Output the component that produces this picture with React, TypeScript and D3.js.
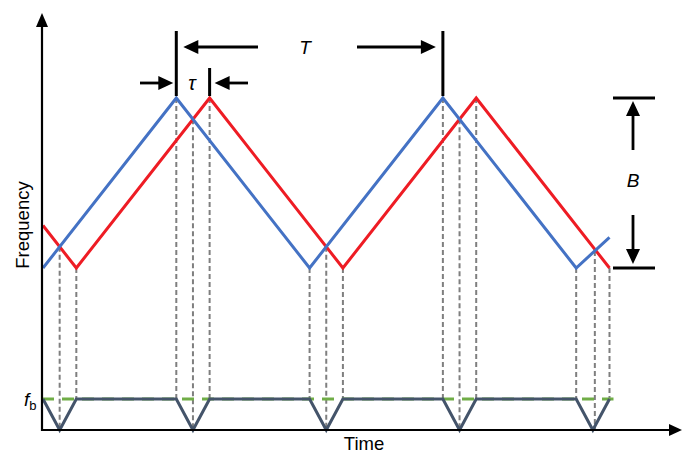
import React from "react";
import * as d3 from "d3";

// Transmitted (blue) and received (red) chirp frequencies: time in half-periods, frequency as fraction of B
const blueT = [0, 1, 2, 3, 4, 4.25];
const blueF = [0, 1, 0, 1, 0, 0.18];
const redT = [0, 0.25, 1.25, 2.25, 3.25, 4.25];
const redF = [0.25, 0, 1, 0, 1, 0];
// Beat frequency (fraction of fb)
const beatT = [0, 0.125, 0.25, 1, 1.125, 1.25, 2, 2.125, 2.25, 3, 3.125, 3.25, 4, 4.125, 4.25];
const beatV = [1, 0, 1, 1, 0, 1, 1, 0, 1, 1, 0, 1, 1, 0, 1];
// Dashed guides: time, top frequency, bottom beat value
const guideT = [0.125, 0.25, 1, 1.125, 1.25, 2, 2.125, 2.25, 3, 3.125, 3.25, 4, 4.14, 4.25];
const guideF = [0.125, 0, 1, 0.875, 1, 0, 0.125, 0, 1, 0.875, 1, 0, 0.1, 0];
const guideB = [0, 1, 1, 0, 1, 1, 0, 1, 1, 0, 1, 1, 0, 1];

const labels = { x: "Time", y: "Frequency", T: "T", tau: "τ", B: "B", fb: "f", fbSub: "b" };

const BLUE = "#4472c4";
const RED = "#ee1c24";
const BEAT = "#44546a";
const GREEN = "#70ad47";
const FONT = "'Liberation Sans', Arial, sans-serif";

function Arrow({ x1, y1, x2, y2, head = 15, half = 7, w = 2.8 }: any) {
  const dx = x2 - x1, dy = y2 - y1;
  const len = Math.hypot(dx, dy);
  const ux = dx / len, uy = dy / len;
  const bx = x2 - ux * head, by = y2 - uy * head;
  const px = -uy, py = ux;
  const pts = [
    [x2, y2],
    [bx + px * half, by + py * half],
    [bx - px * half, by - py * half],
  ];
  return (
    <g>
      <line x1={x1} y1={y1} x2={bx + ux * 1} y2={by + uy * 1} stroke="#000" strokeWidth={w} />
      <polygon points={pts.map((p) => p.join(",")).join(" ")} fill="#000" />
    </g>
  );
}

export default function App() {
  const x = d3.scaleLinear().domain([0, 4.25]).range([43, 609.5]);
  const y = d3.scaleLinear().domain([0, 1]).range([268, 98]);
  const yb = d3.scaleLinear().domain([0, 1]).range([430, 399]);

  const line = d3.line<[number, number]>().x((d) => x(d[0])).y((d) => y(d[1]));
  const beatLine = d3.line<[number, number]>().x((d) => x(d[0])).y((d) => yb(d[1]));

  const blue = blueT.map((t, i) => [t, blueF[i]] as [number, number]);
  const red = redT.map((t, i) => [t, redF[i]] as [number, number]);
  const beat = beatT.map((t, i) => [t, beatV[i]] as [number, number]);

  const axX = 42, axY = 430;

  return (
    <svg width={682} height={454} style={{ position: "absolute", left: 0, top: 0, background: "#fff" }}>
      {/* dashed guides */}
      {guideT.map((t, i) => (
        <line key={i} x1={x(t)} x2={x(t)} y1={y(guideF[i])} y2={yb(guideB[i])}
          stroke="#7f7f7f" strokeWidth={2} strokeDasharray="5,3" />
      ))}
      {/* green fb dashed */}
      <line x1={axX} x2={x(4.25) + 4} y1={yb(1)} y2={yb(1)} stroke={GREEN} strokeWidth={3} strokeDasharray="12,8" />
      {/* beat */}
      <path d={beatLine(beat) || ""} fill="none" stroke={BEAT} strokeWidth={3} strokeLinejoin="miter" />
      {/* chirps */}
      <path d={line(red) || ""} fill="none" stroke={RED} strokeWidth={3} />
      <path d={line(blue) || ""} fill="none" stroke={BLUE} strokeWidth={3} />

      {/* axes */}
      <line x1={axX} y1={axY + 1} x2={axX} y2={24} stroke="#000" strokeWidth={2.2} />
      <polygon points={`${axX},13 ${axX - 6},27 ${axX + 6},27`} fill="#000" />
      <line x1={axX - 1} y1={axY} x2={671} y2={axY} stroke="#000" strokeWidth={2.2} />
      <polygon points={`682,${axY} 669,${axY - 6} 669,${axY + 6}`} fill="#000" />

      {/* T annotation */}
      <line x1={x(1)} x2={x(1)} y1={31} y2={96} stroke="#000" strokeWidth={3} />
      <line x1={x(3)} x2={x(3)} y1={31} y2={96} stroke="#000" strokeWidth={3} />
      <Arrow x1={258} y1={47} x2={x(1) + 7} y2={47} />
      <Arrow x1={357} y1={47} x2={x(3) - 7} y2={47} />
      <text x={305} y={47} dominantBaseline="central" textAnchor="middle" fontStyle="italic" fontSize={19} fontFamily={FONT}>{labels.T}</text>

      {/* tau annotation */}
      <line x1={x(1.25)} x2={x(1.25)} y1={68} y2={96} stroke="#000" strokeWidth={3} />
      <Arrow x1={140} y1={83} x2={x(1) - 3} y2={83} />
      <Arrow x1={248} y1={83} x2={x(1.25) + 5} y2={83} />
      <text x={192} y={83} dominantBaseline="central" textAnchor="middle" fontStyle="italic" fontSize={20} fontFamily={FONT}>{labels.tau}</text>

      {/* B annotation */}
      <line x1={613} x2={655} y1={y(1)} y2={y(1)} stroke="#000" strokeWidth={3} />
      <line x1={613} x2={655} y1={y(0)} y2={y(0)} stroke="#000" strokeWidth={3} />
      <Arrow x1={633} y1={150} x2={633} y2={y(1) + 3} />
      <Arrow x1={633} y1={215} x2={633} y2={y(0) - 4} />
      <text x={633} y={180} dominantBaseline="central" textAnchor="middle" fontStyle="italic" fontSize={19} fontFamily={FONT}>{labels.B}</text>

      {/* axis labels */}
      <text transform={`translate(29,225) rotate(-90)`} textAnchor="middle" fontSize={18.5} fontFamily={FONT}>{labels.y}</text>
      <text x={364} y={450} textAnchor="middle" fontSize={18.5} fontFamily={FONT}>{labels.x}</text>
      <text x={24} y={406} fontStyle="italic" fontSize={19} fontFamily={FONT}>
        {labels.fb}
        <tspan fontStyle="normal" fontSize={13} dy={4}>{labels.fbSub}</tspan>
      </text>
    </svg>
  );
}
